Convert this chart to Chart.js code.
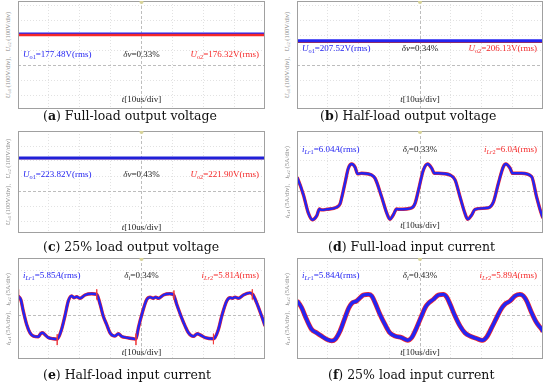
<!DOCTYPE html>
<html>
<head>
<meta charset="utf-8">
<script src="https://cdn.jsdelivr.net/npm/chart.js@4.4.1/dist/chart.umd.min.js"></script>
<style>
  html, body { margin: 0; padding: 0; background: #fff; }
  #page { position: relative; width: 550px; height: 388px; overflow: hidden; font-family: "Liberation Serif", serif; }
  #page canvas { position: absolute; }
  .note { position: absolute; font-size: 9px; line-height: 10px; white-space: nowrap; }
  .note sub, .ylab sub { font-size: 0.7em; vertical-align: -0.3em; line-height: 0; }
  .ylab { position: absolute; font-size: 6.5px; line-height: 8px; color: #8c8c8c; white-space: nowrap; transform: translate(-50%, -50%) rotate(-90deg); }
  .cap { position: absolute; font-family: "DejaVu Serif", serif; font-size: 12.5px; line-height: 14px; white-space: nowrap; color: #111; }
</style>
</head>
<body>
<div id="page"></div>
<script>
// scope settings: 10us/div on x, 8 divisions
const timeRange = [0, 80];
const voltsPerDiv = 100;
const ampsPerDiv = 5;

// output voltage traces (a, b, c): level of each trace on screen, V
const outputUo1 = [211, 162, 220];
const outputUo2 = [200, 151, 219];

// rms readouts printed on each panel
const rmsFirst = ['177.48', '207.52', '223.82', '6.04', '5.85', '5.84'];
const rmsSecond = ['176.32', '206.13', '221.90', '6.0', '5.81', '5.89'];
const deviation = ['0.33', '0.34', '0.43', '0.33', '0.34', '0.43'];

const captions = ['Full-load output voltage', 'Half-load output voltage', '25% load output voltage',
  'Full-load input current', 'Half-load input current', '25% load input current'];

// input currents [t (us), i (A)]
const fullLoadCurrent = [[0, 4.6], [0.2, 4.2], [2.1, -1.3], [3.7, -7.4], [5.0, -9.6], [6.4, -8.3], [7.3, -6.0], [8.0, -6.3],
  [9.7, -6.1], [12.9, -5.4], [14.0, -4.3], [14.5, -2.4], [15.6, 2.6], [16.7, 7.6], [17.8, 9.0], [18.9, 7.9], [19.7, 5.7],
  [21.0, 5.9], [24.3, 5.3], [25.4, 4.2], [27.5, -1.9], [29.2, -7.4], [30.2, -9.4], [31.3, -8.0], [32.4, -6.0], [33.2, -6.1],
  [37.3, -5.6], [38.4, -4.1], [39.5, 0.3], [41.1, 7.0], [42.5, 9.0], [43.8, 7.6], [44.7, 5.9], [46.0, 5.9], [49.8, 5.3],
  [51.4, 3.7], [53.0, -1.9], [54.6, -7.4], [55.5, -9.4], [56.8, -8.0], [57.9, -6.1], [62.2, -5.6], [63.9, -3.6], [65.5, 2.6],
  [67.1, 8.1], [67.9, 9.0], [69.3, 7.6], [70.1, 5.9], [73.1, 5.9], [76.3, 4.8], [77.9, -1.9], [79.6, -8.0], [80, -9.0]];

const halfLoadCurrent = [[0, 6.7], [0.9, 5.5], [1.7, 1.7], [2.8, -2.8], [3.9, -5.6], [5.0, -6.7], [6.6, -6.9], [7.3, -5.9],
  [8.0, -5.6], [8.8, -6.3], [9.8, -7.2], [11.4, -7.6], [12.7, -7.7], [14.1, -4.5], [15.2, 0], [16.3, 5.0], [17.4, 6.7],
  [18.1, 6.1], [19.0, 6.4], [20.1, 5.9], [21.7, 7.0], [23.9, 7.4], [25.5, 7.2], [26.6, 3.9], [27.6, 0], [28.7, -2.8],
  [29.8, -5.6], [31.4, -6.7], [32.5, -5.9], [33.6, -6.8], [35.2, -7.2], [37.4, -7.6], [38.2, -7.7], [39.0, -3.9], [40.1, 0.5],
  [41.7, 5.5], [42.8, 6.3], [43.8, 5.9], [44.6, 6.3], [45.5, 5.9], [47.1, 7.0], [49.2, 7.4], [50.3, 7.2], [51.4, 3.9],
  [53.0, -0.6], [54.1, -3.3], [55.2, -5.6], [56.8, -6.8], [58.1, -5.9], [59.0, -6.3], [60.6, -7.2], [63.3, -7.6], [63.8, -7.2],
  [64.9, -4.5], [66.0, 0], [67.6, 5.0], [68.7, 6.1], [69.5, 5.9], [70.3, 6.3], [71.4, 5.9], [73.0, 7.0], [75.1, 7.7],
  [76.0, 7.2], [77.3, 4.4], [78.9, 0], [80, -3.3]];

// switching spikes on the half-load iLr2 trace: [t, from, to]
const halfLoadSpikes = [[0.2, 8.9, 5.0], [12.7, -6.1, -9.7], [25.5, 8.9, 5.5], [38.2, -5.9, -9.7], [50.5, 8.5, 5.5],
  [63.3, -5.9, -9.4], [75.9, 8.9, 5.5]];

const quarterLoadCurrent = [[0, 5.0], [0.2, 4.8], [1.5, 2.8], [3.1, -1.1], [4.8, -4.5], [6.4, -5.6], [8.0, -6.7], [9.7, -7.8],
  [11.3, -8.3], [12.4, -7.8], [14.0, -5.0], [15.6, -0.6], [16.9, 2.8], [18.0, 4.4], [19.4, 5.0], [20.5, 6.1], [21.6, 7.0],
  [23.2, 7.2], [24.3, 6.7], [25.4, 4.4], [27.0, 0.5], [28.6, -2.8], [30.2, -5.6], [31.9, -6.7], [34.0, -7.2], [36.0, -8.1],
  [37.3, -7.2], [38.9, -3.9], [40.5, 0], [41.8, 3.0], [42.9, 4.4], [44.3, 5.5], [46.0, 7.0], [47.6, 7.2], [48.7, 6.3],
  [49.8, 3.9], [51.4, 0], [53.0, -3.3], [54.6, -5.6], [56.3, -6.7], [58.4, -7.5], [60.3, -8.1], [61.7, -7.0], [63.3, -3.9],
  [64.9, -0.6], [66.3, 2.2], [67.6, 3.9], [69.3, 5.0], [70.9, 6.7], [72.5, 7.2], [73.6, 6.7], [74.7, 5.0], [76.3, 1.1],
  [77.9, -2.2], [79.6, -4.5], [80, -5.2]];

// page layout: plot box [left, top, width, height], y of the zero line, text rows
const boxes = [[18, 1, 247, 108], [297, 1, 246, 108], [18, 131, 247, 102], [297, 131, 246, 102], [18, 258, 247, 101], [297, 258, 246, 101]];
const zeroY = [65, 65, 191, 191, 316, 316];
const noteY = [54, 48, 174, 149, 275, 275];
const tLabelY = [99, 99, 227, 225, 352, 352];
const capPos = [[43, 116], [320, 116], [43, 247], [328, 247], [43, 375], [328, 375]];
const PX_PER_DIV = 15;

const BLUE = '#2424f2';
const RED = '#f52828';
const page = document.getElementById('page');

const framePlugin = {
  id: 'scopeFrame',
  beforeDraw(chart) {
    const { ctx, width, height } = chart;
    ctx.save();
    ctx.fillStyle = '#fff';
    ctx.fillRect(0, 0, width, height);
    ctx.restore();
  },
  afterDraw(chart) {
    const { ctx, chartArea: a } = chart;
    ctx.save();
    ctx.strokeStyle = '#a0a0a0';
    ctx.lineWidth = 1;
    ctx.strokeRect(a.left + 0.5, a.top + 0.5, a.right - a.left - 1, a.bottom - a.top - 1);
    // trigger marker
    ctx.fillStyle = '#d8d49a';
    ctx.beginPath();
    ctx.arc((a.left + a.right) / 2, a.top + 1, 2, 0, Math.PI * 2);
    ctx.fill();
    ctx.restore();
  }
};

function addHtml(cls, html, css) {
  const el = document.createElement('div');
  el.className = cls;
  el.innerHTML = html;
  Object.assign(el.style, css);
  page.appendChild(el);
  return el;
}

function pts(arr) {
  return arr.map(([x, y]) => ({ x, y }));
}

function makePanel(i, datasets, perDiv) {
  const [left, top, w, h] = boxes[i];
  const canvas = document.createElement('canvas');
  canvas.width = w;
  canvas.height = h;
  canvas.style.left = left + 'px';
  canvas.style.top = top + 'px';
  page.appendChild(canvas);

  const gridColor = (center) => (c) => (c.tick && c.tick.value === center ? '#bdbdbd' : '#e2e2e2');
  const gridDash = (center) => (c) => (c.tick && c.tick.value === center ? [3, 2] : [1, 2]);

  new Chart(canvas, {
    type: 'line',
    data: { datasets },
    options: {
      responsive: false,
      animation: false,
      events: [],
      layout: { padding: 0 },
      plugins: { legend: { display: false }, tooltip: { enabled: false } },
      elements: { point: { radius: 0 } },
      scales: {
        x: {
          type: 'linear', min: timeRange[0], max: timeRange[1],
          ticks: { display: false, stepSize: 10 },
          grid: { drawTicks: false, color: gridColor(40) },
          border: { display: false, dash: gridDash(40) }
        },
        y: {
          type: 'linear',
          min: -((top + h - zeroY[i]) / PX_PER_DIV) * perDiv,
          max: ((zeroY[i] - top) / PX_PER_DIV) * perDiv,
          ticks: { display: false, stepSize: perDiv, includeBounds: false },
          grid: { drawTicks: false, color: gridColor(0) },
          border: { display: false, dash: gridDash(0) }
        }
      }
    },
    plugins: [framePlugin]
  });

  // texts on the scope screen
  const isVolt = i < 3;
  const n1 = isVolt ? '<i>U</i><sub>o1</sub>' : '<i>i</i><sub><i>Lr</i>1</sub>';
  const n2 = isVolt ? '<i>U</i><sub>o2</sub>' : '<i>i</i><sub><i>Lr</i>2</sub>';
  const unit = isVolt ? 'V' : '<i>A</i>';
  const dv = isVolt ? '<i>δv</i>' : '<i>δ</i><sub><i>i</i></sub>';
  const y = noteY[i] - 5 + 'px';
  addHtml('note', n1 + '=' + rmsFirst[i] + unit + '(rms)', { left: left + 5 + 'px', top: y, color: BLUE });
  addHtml('note', dv + '=' + deviation[i] + '%', { left: left + w / 2 + 'px', top: y, color: '#222', transform: 'translateX(-50%)' });
  addHtml('note', n2 + '=' + rmsSecond[i] + unit + '(rms)', { right: 550 - (left + w - 6) + 'px', top: y, color: RED });
  addHtml('note', '<i>t</i>[10us/div]', { left: left + w / 2 + 'px', top: tLabelY[i] - 5 + 'px', color: '#222', transform: 'translateX(-50%)' });

  const yl = isVolt
    ? '<i>U</i><sub>o1</sub> (100V/div)、<i>U</i><sub>o2</sub> (100V/div)'
    : '<i>i</i><sub>Lr1</sub> (5A/div)、<i>i</i><sub>Lr2</sub> (5A/div)';
  addHtml('ylab', yl, { left: left - 10 + 'px', top: top + h / 2 + 'px' });

  const letter = 'abcdef'[i];
  addHtml('cap', '(<b>' + letter + '</b>) ' + captions[i], { left: capPos[i][0] + 'px', top: capPos[i][1] - 7 + 'px' });
}

function flat(level) {
  return [{ x: timeRange[0], y: level }, { x: timeRange[1], y: level }];
}

// lower "order" is drawn on top
// (a) full load: red trace thicker, blue just above it
makePanel(0, [
  { data: flat(outputUo1[0]), borderColor: BLUE, borderWidth: 1.6, order: 1 },
  { data: flat(outputUo2[0]), borderColor: RED, borderWidth: 2.6, order: 0 }
], voltsPerDiv);

// (b) half load
makePanel(1, [
  { data: flat(outputUo1[1]), borderColor: BLUE, borderWidth: 3, order: 0 },
  { data: flat(outputUo2[1]), borderColor: '#b03040', borderWidth: 1.5, order: 1 }
], voltsPerDiv);

// (c) 25% load
makePanel(2, [
  { data: flat(outputUo1[2]), borderColor: '#2020d8', borderWidth: 3, order: 0 },
  { data: flat(outputUo2[2]), borderColor: RED, borderWidth: 2, order: 1 }
], voltsPerDiv);

const curve = { cubicInterpolationMode: 'monotone', pointRadius: 0 };

// (d) full-load input current
makePanel(3, [
  { ...curve, data: pts(fullLoadCurrent), borderColor: BLUE, borderWidth: 2.4, order: 1 },
  { ...curve, data: pts(fullLoadCurrent), borderColor: RED, borderWidth: 3.4, order: 2 }
], ampsPerDiv);

// (e) half-load input current, with the switching spikes of iLr2
const spikePts = [];
halfLoadSpikes.forEach(([t, a, b]) => {
  spikePts.push({ x: t, y: a }, { x: t, y: b }, { x: t, y: null });
});
makePanel(4, [
  { data: spikePts, borderColor: 'rgba(240,60,60,0.8)', borderWidth: 1, tension: 0, spanGaps: false, order: 0 },
  { ...curve, data: pts(halfLoadCurrent), borderColor: BLUE, borderWidth: 2.4, order: 1 },
  { ...curve, data: pts(halfLoadCurrent), borderColor: RED, borderWidth: 3.4, order: 2 }
], ampsPerDiv);

// (f) 25% load input current
makePanel(5, [
  { ...curve, data: pts(quarterLoadCurrent), borderColor: BLUE, borderWidth: 3.4, order: 1 },
  { ...curve, data: pts(quarterLoadCurrent), borderColor: RED, borderWidth: 4.8, order: 2 }
], ampsPerDiv);
</script>
</body>
</html>
